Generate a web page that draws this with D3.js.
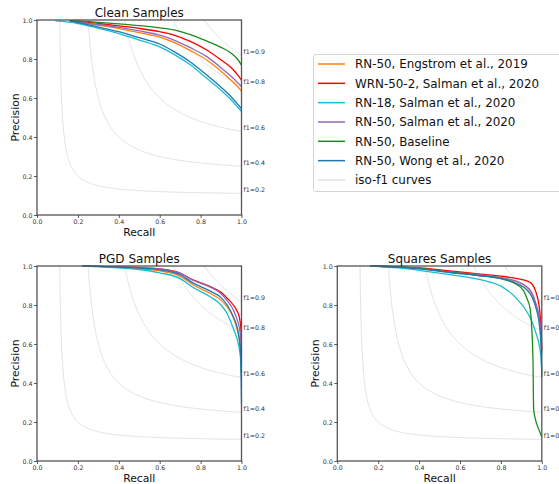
<!DOCTYPE html>
<html><head><meta charset="utf-8">
<script src="https://cdn.jsdelivr.net/npm/d3@7"></script>
<style>body{margin:0;background:#fff;overflow:hidden} svg{font-family:"DejaVu Sans",sans-serif;display:block}</style>
</head><body><svg id="c" width="559" height="484"></svg>
<script>
const seriesNames = ["RN-50, Engstrom et al., 2019", "WRN-50-2, Salman et al., 2020", "RN-18, Salman et al., 2020", "RN-50, Salman et al., 2020", "RN-50, Baseline", "RN-50, Wong et al., 2020"];
const seriesColors = ["#ff7f0e", "#ff0000", "#17becf", "#9467bd", "#1a8c1a", "#1f77b4"];
const isoF1 = [0.2, 0.4, 0.6, 0.8, 0.9];
const axisTicks = [0, 0.2, 0.4, 0.6, 0.8, 1.0];
const panelTitles = ["Clean Samples", "PGD Samples", "Squares Samples"];

// Clean samples: [recall, precision]
const cleanEngstrom = [[0.16,0.995],[0.2,0.989],[0.3,0.973],[0.4,0.956],[0.5,0.935],[0.6,0.912],[0.67,0.885],[0.75,0.843],[0.83,0.795],[0.9,0.737],[0.95,0.69],[0.98,0.66],[1.0,0.636]];
const cleanWRN = [[0.16,0.996],[0.2,0.993],[0.3,0.982],[0.4,0.97],[0.5,0.957],[0.6,0.94],[0.67,0.923],[0.75,0.89],[0.83,0.846],[0.9,0.795],[0.95,0.755],[0.98,0.72],[1.0,0.692]];
const cleanRN18 = [[0.09,0.995],[0.2,0.982],[0.3,0.957],[0.4,0.93],[0.5,0.897],[0.6,0.862],[0.67,0.824],[0.75,0.77],[0.83,0.701],[0.9,0.64],[0.95,0.59],[0.98,0.555],[1.0,0.53]];
const cleanSalman = [[0.16,0.996],[0.2,0.99],[0.3,0.977],[0.4,0.962],[0.5,0.944],[0.6,0.922],[0.67,0.897],[0.75,0.858],[0.83,0.812],[0.9,0.755],[0.95,0.71],[0.98,0.68],[1.0,0.658]];
const cleanBaseline = [[0.16,0.997],[0.2,0.995],[0.3,0.988],[0.4,0.98],[0.5,0.971],[0.6,0.96],[0.67,0.949],[0.75,0.925],[0.83,0.892],[0.9,0.86],[0.95,0.83],[0.98,0.80],[1.0,0.769]];
const cleanWong = [[0.16,0.995],[0.2,0.987],[0.3,0.964],[0.4,0.94],[0.5,0.909],[0.6,0.877],[0.67,0.838],[0.75,0.785],[0.83,0.718],[0.9,0.655],[0.95,0.605],[0.98,0.57],[1.0,0.545]];

// PGD samples
const pgdEngstrom = [[0.22,1.0],[0.3,0.997],[0.4,0.993],[0.5,0.986],[0.6,0.975],[0.7,0.948],[0.76,0.905],[0.85,0.858],[0.9,0.825],[0.93,0.79],[0.96,0.735],[0.98,0.67],[0.99,0.62],[0.997,0.56],[1.0,0.45]];
const pgdWRN = [[0.22,1.0],[0.3,0.998],[0.4,0.996],[0.5,0.992],[0.6,0.985],[0.7,0.963],[0.76,0.93],[0.85,0.893],[0.9,0.865],[0.93,0.835],[0.96,0.80],[0.98,0.765],[0.99,0.735],[0.997,0.68],[1.0,0.55]];
const pgdRN18 = [[0.22,1.0],[0.3,0.997],[0.4,0.99],[0.5,0.982],[0.6,0.965],[0.7,0.935],[0.76,0.892],[0.85,0.84],[0.9,0.80],[0.93,0.755],[0.96,0.68],[0.98,0.62],[0.99,0.57],[0.997,0.5],[1.0,0.43]];
const pgdSalman = [[0.22,1.0],[0.3,0.998],[0.4,0.996],[0.5,0.992],[0.6,0.985],[0.7,0.962],[0.76,0.928],[0.85,0.89],[0.9,0.858],[0.93,0.822],[0.96,0.775],[0.98,0.72],[0.99,0.68],[0.997,0.62],[1.0,0.5]];
const pgdBaseline = [];
const pgdWong = [[0.22,1.0],[0.3,0.998],[0.4,0.994],[0.5,0.99],[0.6,0.98],[0.7,0.955],[0.76,0.915],[0.85,0.87],[0.9,0.838],[0.93,0.80],[0.96,0.74],[0.98,0.68],[0.99,0.62],[0.997,0.52],[1.0,0.29]];

// Squares samples
const sqEngstrom = [[0.16,1.0],[0.3,0.995],[0.4,0.988],[0.55,0.969],[0.7,0.953],[0.8,0.94],[0.88,0.918],[0.93,0.89],[0.95,0.862],[0.97,0.805],[0.99,0.71],[0.997,0.63],[1.0,0.56]];
const sqWRN = [[0.16,1.0],[0.3,0.995],[0.4,0.99],[0.55,0.975],[0.7,0.958],[0.8,0.948],[0.88,0.935],[0.93,0.922],[0.95,0.91],[0.97,0.87],[0.99,0.77],[0.997,0.66],[1.0,0.57]];
const sqRN18 = [[0.16,1.0],[0.3,0.99],[0.4,0.978],[0.55,0.956],[0.7,0.93],[0.8,0.897],[0.88,0.83],[0.93,0.76],[0.95,0.72],[0.97,0.66],[0.99,0.58],[0.997,0.52],[1.0,0.45]];
const sqSalman = [[0.16,1.0],[0.3,0.995],[0.4,0.988],[0.55,0.97],[0.7,0.955],[0.8,0.94],[0.88,0.92],[0.93,0.89],[0.95,0.865],[0.97,0.81],[0.99,0.72],[0.997,0.64],[1.0,0.55]];
const sqBaseline = [[0.16,1.0],[0.3,0.995],[0.4,0.988],[0.55,0.968],[0.7,0.95],[0.8,0.935],[0.88,0.904],[0.91,0.875],[0.928,0.832],[0.943,0.78],[0.951,0.678],[0.957,0.508],[0.96,0.268],[0.968,0.217],[0.984,0.166],[1.0,0.123]];
const sqWong = [[0.16,1.0],[0.3,0.994],[0.4,0.985],[0.55,0.966],[0.7,0.95],[0.8,0.935],[0.88,0.909],[0.93,0.875],[0.95,0.845],[0.97,0.79],[0.99,0.68],[0.997,0.58],[1.0,0.43]];

const panelData = [
  [cleanEngstrom, cleanWRN, cleanRN18, cleanSalman, cleanBaseline, cleanWong],
  [pgdEngstrom, pgdWRN, pgdRN18, pgdSalman, pgdBaseline, pgdWong],
  [sqEngstrom, sqWRN, sqRN18, sqSalman, sqBaseline, sqWong]
];

const svg = d3.select("#c");
const W = 204.5, H = 195;
const panelPos = [[37, 20], [37, 266], [337.3, 266]];
const x = d3.scaleLinear().domain([0, 1]).range([0, W]);
const y = d3.scaleLinear().domain([0, 1]).range([H, 0]);
const line = d3.line().x(d => x(d[0])).y(d => y(d[1])).curve(d3.curveMonotoneX);

svg.append("defs").append("clipPath").attr("id", "clip")
  .append("rect").attr("x", -1).attr("y", -1).attr("width", W + 2).attr("height", H + 2);

panelData.forEach((series, pi) => {
  const g = svg.append("g").attr("transform", `translate(${panelPos[pi][0]},${panelPos[pi][1]})`);
  // iso-f1 curves
  isoF1.forEach(f => {
    const x0 = f / (2 - f);
    const pts = d3.range(0, 201).map(i => {
      const r = x0 + (1 - x0) * Math.pow(i / 200, 2);
      return [r, f * r / (2 * r - f)];
    });
    g.append("path").attr("d", d3.line().x(d => x(d[0])).y(d => y(d[1]))(pts))
      .attr("fill", "none").attr("stroke", "#e2e2e2").attr("stroke-width", 1);
    g.append("text").attr("x", x(1) + 2).attr("y", y(f / (2 - f) + 0.005))
      .attr("font-size", 6.3).attr("fill", "#333").text("f1=" + f.toFixed(1));
  });
  // data lines
  const lg = g.append("g").attr("clip-path", "url(#clip)");
  series.forEach((d, si) => {
    if (!d.length) return;
    lg.append("path").attr("d", line(d)).attr("fill", "none")
      .attr("stroke", seriesColors[si]).attr("stroke-width", 1.3).attr("stroke-linejoin", "round");
  });
  // frame
  g.append("rect").attr("x", 0).attr("y", 0).attr("width", W).attr("height", H)
    .attr("fill", "none").attr("stroke", "#555").attr("stroke-width", 1.3);
  // axes
  const xa = g.append("g").attr("transform", `translate(0,${H})`)
    .call(d3.axisBottom(x).tickValues(axisTicks).tickFormat(d3.format(".1f")).tickSize(3).tickPadding(1.5));
  const ya = g.append("g")
    .call(d3.axisLeft(y).tickValues(axisTicks).tickFormat(d3.format(".1f")).tickSize(3).tickPadding(1.5));
  [xa, ya].forEach(a => {
    a.select(".domain").remove();
    a.selectAll("line").attr("stroke", "#333").attr("stroke-width", 0.8);
    a.selectAll("text").attr("font-size", 6.3).attr("fill", "#333").attr("font-family", "DejaVu Sans");
  });
  g.append("text").attr("x", W / 2).attr("y", -3.5).attr("text-anchor", "middle")
    .attr("font-size", 12).attr("fill", "#111").text(panelTitles[pi]);
  g.append("text").attr("x", W / 2).attr("y", H + 21).attr("text-anchor", "middle")
    .attr("font-size", 10.8).attr("fill", "#111").text("Recall");
  g.append("text").attr("transform", `translate(-18.5,${H / 2}) rotate(-90)`).attr("text-anchor", "middle")
    .attr("font-size", 10.8).attr("fill", "#111").text("Precision");
});

// legend
const lgd = svg.append("g").attr("transform", "translate(313.5,54.5)");
lgd.append("rect").attr("width", 260).attr("height", 137).attr("rx", 2.5)
  .attr("fill", "#fff").attr("stroke", "#d5d5d5").attr("stroke-width", 1);
const legendItems = seriesNames.map((n, i) => ({ n, c: seriesColors[i] })).concat([{ n: "iso-f1 curves", c: "#e2e2e2" }]);
legendItems.forEach((it, i) => {
  const yy = 9.5 + i * 19.33;
  lgd.append("line").attr("x1", 4.5).attr("x2", 31.5).attr("y1", yy).attr("y2", yy)
    .attr("stroke", it.c).attr("stroke-width", 1.5);
  lgd.append("text").attr("x", 41.5).attr("y", yy).attr("dy", "0.36em")
    .attr("font-size", 11.9).attr("fill", "#111").text(it.n);
});
</script></body></html>
